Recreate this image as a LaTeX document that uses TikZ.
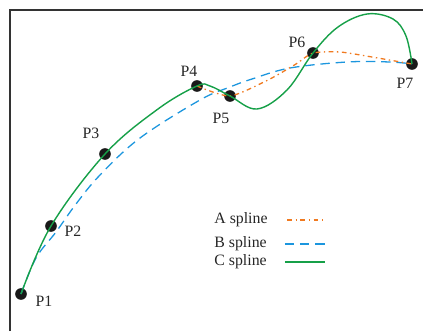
\documentclass[tikz,border=0pt]{standalone}
\usepackage{fontspec}
\setmainfont{Liberation Serif}
\usetikzlibrary{positioning}
\definecolor{aorange}{RGB}{240,122,32}
\definecolor{bblue}{RGB}{28,150,222}
\definecolor{cgreen}{RGB}{22,160,72}

\begin{document}
\begin{tikzpicture}[x=0.03cm,y=-0.03cm,
  pt/.style={circle,fill=black!90,inner sep=0pt,minimum size=3.5mm},
  lbl/.style={inner sep=1pt,font=\fontsize{13.5}{16}\selectfont,text=black!85},
  aspl/.style={aorange,line width=1.1pt,dash pattern=on 4pt off 3pt on 1.2pt off 3pt},
  bspl/.style={bblue,line width=1.1pt,dash pattern=on 8pt off 5pt},
  cspl/.style={cgreen,line width=1.2pt}
]
  \useasboundingbox (0,0) rectangle (423,331);
  \draw[black!80,line width=1.2pt] (10,331) -- (10,10) -- (423,10);

  % control points
  \node[pt] (P1) at (21,294) {};
  \node[pt] (P2) at (51,226) {};
  \node[pt] (P3) at (105,154) {};
  \node[pt] (P4) at (197,86) {};
  \node[pt] (P5) at (230,96) {};
  \node[pt] (P6) at (313,53) {};
  \node[pt] (P7) at (412,64) {};

  \node[lbl] (l1) at (44,301) {P1};
  \node[lbl] (l2) at (73,231) {P2};
  \node[lbl] (l3) at (91,133) {P3};
  \node[lbl] (l4) at (189,71) {P4};
  \node[lbl] (l5) at (221,118) {P5};
  \node[lbl] (l6) at (297,42) {P6};
  \node[lbl] (l7) at (405,83) {P7};

  % splines
  \draw[bspl] plot[smooth,tension=0.6] coordinates {(21,294) (36,258) (56,232)
    (76,204) (100,175) (140,138) (200,100) (230,87) (252,79) (290,68)
    (347,62) (390,62) (412,64)};
  \draw[aspl] plot[smooth,tension=0.4] coordinates {(197,86) (230,96) (268,80)
    (296,64) (313,53) (340,52) (372,57) (412,64)};
  \draw[cspl] plot[smooth,tension=0.6] coordinates {(21,294) (51,226) (105,154)
    (158,109) (197,86) (210,86) (230,96) (257,109) (287,90) (313,53)
    (338,27) (367,14) (393,19) (406,36) (412,64)};

  % legend
  \node[lbl,anchor=west] (la) at (213,220) {A spline};
  \node[lbl,anchor=west] (lb) at (213,244) {B spline};
  \node[lbl,anchor=west] (lc) at (213,262) {C spline};
  \draw[aspl] ([xshift=0.55cm]la.east) -- ++(38,0);
  \draw[bspl] ([xshift=0.5cm]lb.east) -- ++(44,0);
  \draw[cspl] ([xshift=0.5cm]lc.east) -- ++(40,0);
\end{tikzpicture}
\end{document}
